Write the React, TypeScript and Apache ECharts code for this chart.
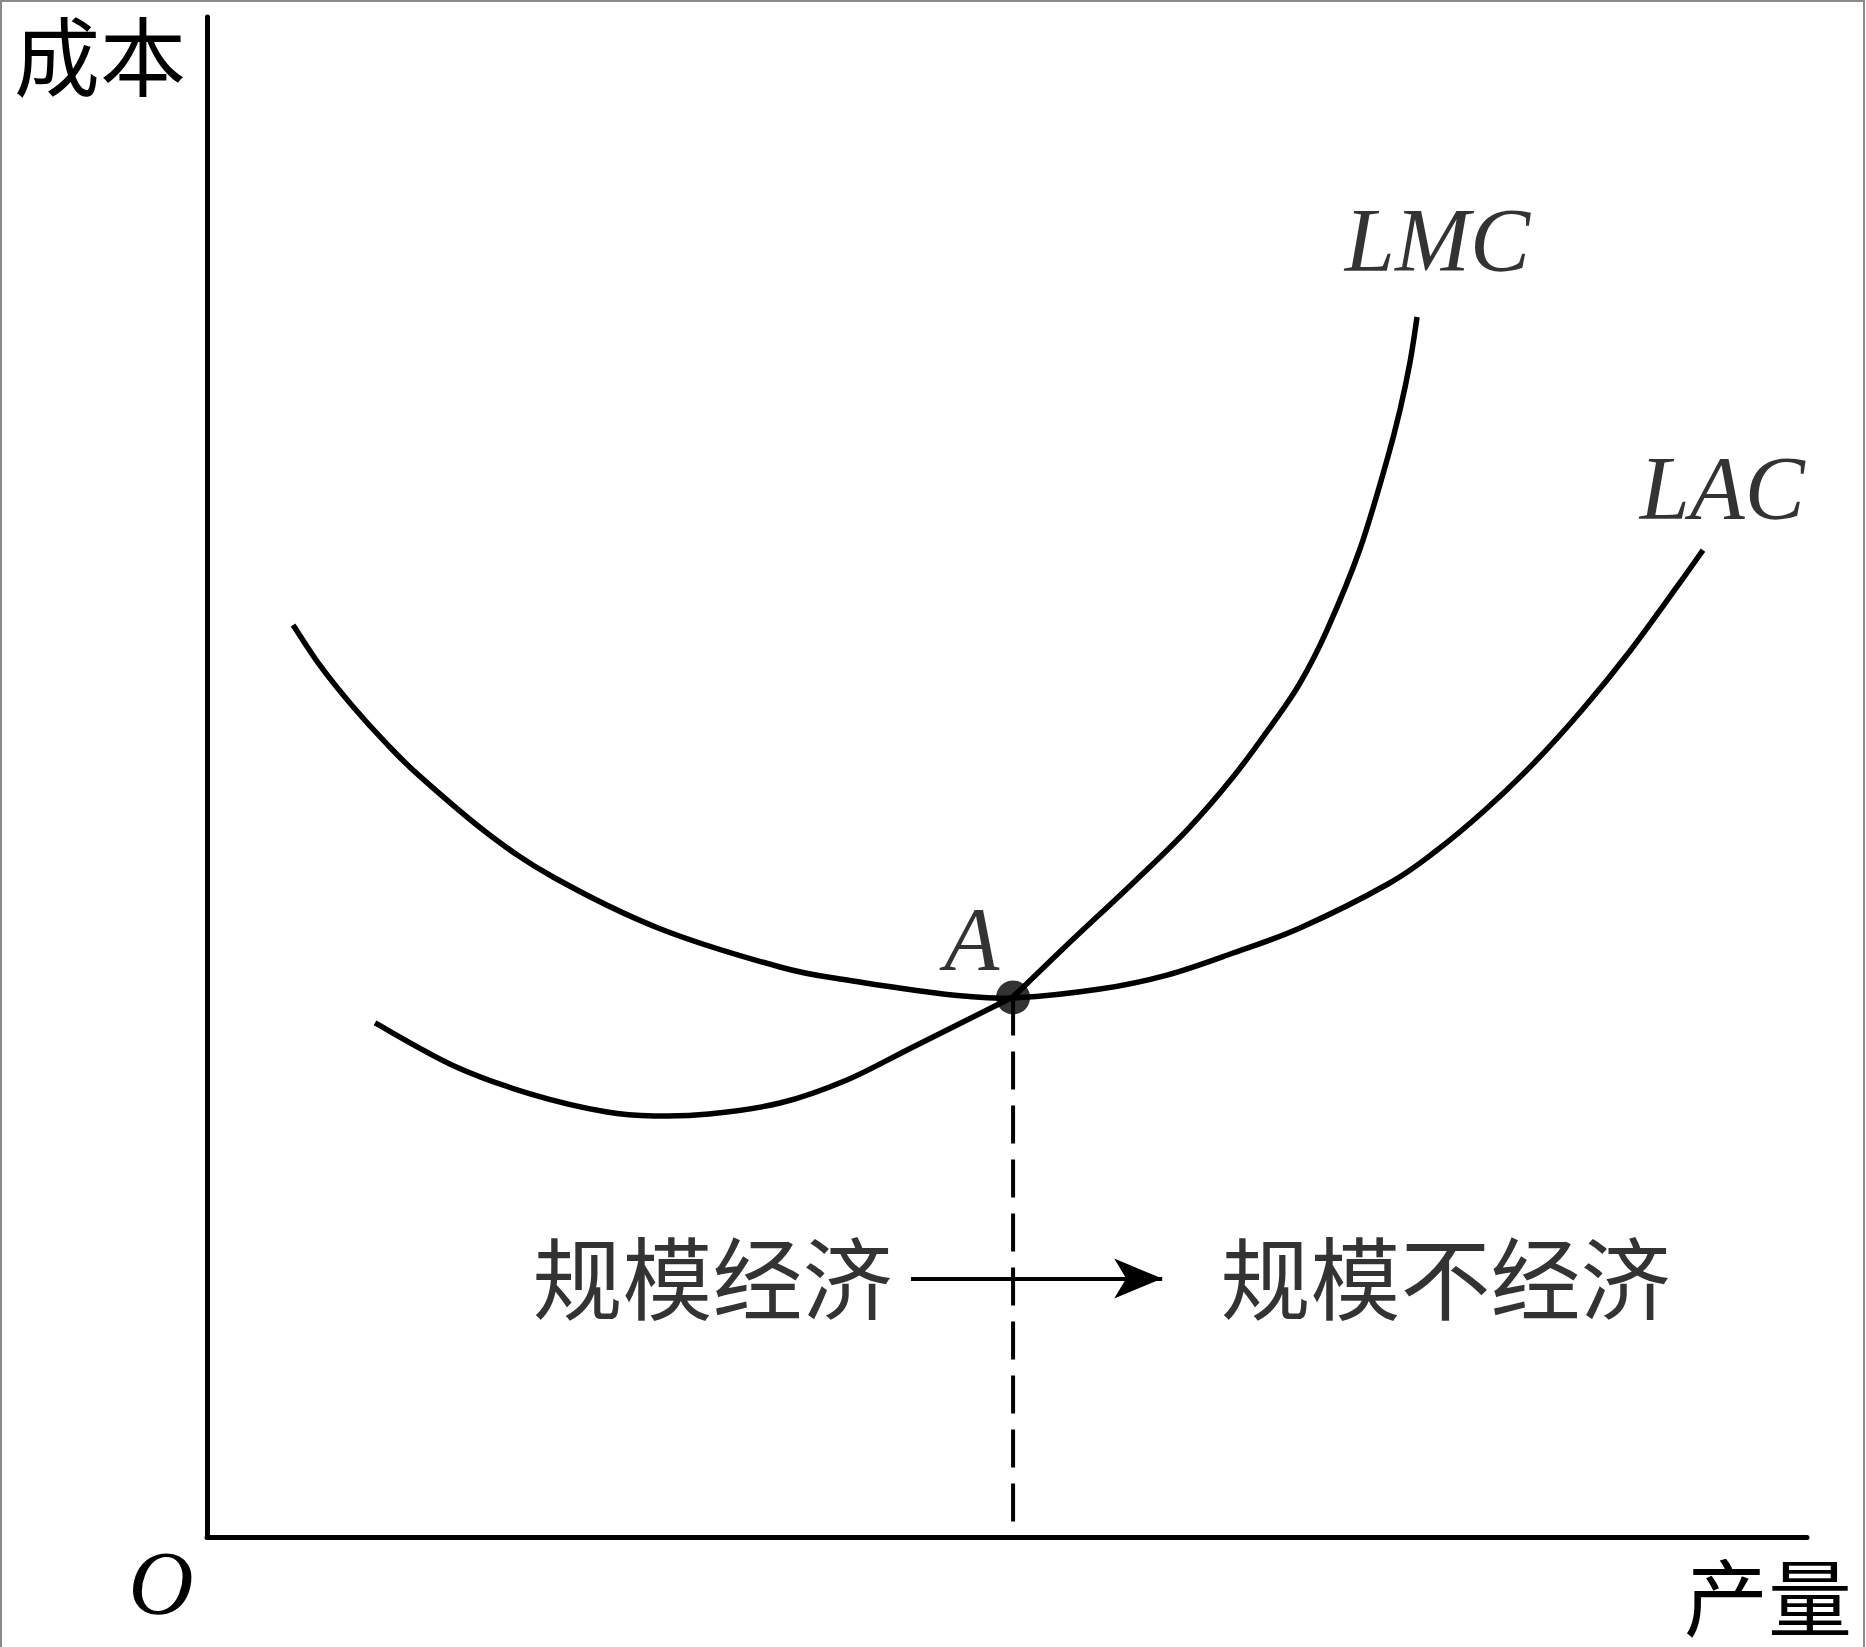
import React, { useEffect, useRef } from "react";
import * as echarts from "echarts";

// Long-run average cost curve (LAC): quantity / cost
const lacQ = [5.38, 7.06, 9.13, 11.25, 13.31, 17.5, 21.63, 28.19, 35.81, 40.0, 44.13, 47.25, 50.38, 55.81, 60.0, 64.13, 68.31, 73.81, 76.81, 79.88, 82.88, 85.94, 88.94, 92.0, 93.5];
const lacC = [60.0, 57.34, 54.62, 52.16, 50.04, 46.32, 43.42, 40.07, 37.5, 36.64, 35.99, 35.59, 35.46, 36.05, 36.97, 38.42, 40.07, 42.96, 45.13, 47.83, 50.86, 54.41, 58.29, 62.7, 64.93];

// Long-run marginal cost curve (LMC), part up to point A
const lmcLeftQ = [10.5, 15.44, 20.25, 25.0, 28.19, 31.38, 35.81, 40.0, 44.13, 50.38];
const lmcLeftC = [33.82, 30.99, 29.14, 27.96, 27.7, 27.83, 28.55, 30.07, 32.24, 35.53];
// LMC beyond point A
const lmcRightQ = [50.38, 53.75, 57.88, 61.25, 64.13, 66.63, 68.31, 70.0, 72.06, 73.75, 74.56, 75.19, 75.63];
const lmcRightC = [35.53, 38.95, 43.03, 46.51, 50.0, 53.55, 56.18, 59.67, 65.0, 70.86, 74.14, 77.3, 80.26];

// Point A: minimum of LAC where LMC crosses
const pointA = [50.38, 35.5];

// Curve labels
const curveLabelNames = ["LMC", "LAC", "A"];
const curveLabelPos = [[76.9, 85.3], [94.7, 69.0], [47.8, 39.3]];

// Region texts and arrow
const regionTexts = ["规模经济", "规模不经济"];
const regionTextPos = [[31.6, 17.3], [77.4, 17.3]];
const arrowFrom = [44.0, 17.0];
const arrowTo = [59.7, 17.0];

const axisNameY = "成本";
const axisNameX = "产量";
const originLabel = "O";

const W = 1866;
const H = 1647;

// Catmull-Rom spline through pixel points, as cubic bezier path data
function splinePath(pts: number[][]): string {
  if (pts.length < 2) return "";
  let d = `M${pts[0][0]},${pts[0][1]}`;
  for (let i = 0; i < pts.length - 1; i++) {
    const p0 = pts[i - 1] || pts[i];
    const p1 = pts[i];
    const p2 = pts[i + 1];
    const p3 = pts[i + 2] || pts[i + 1];
    const c1x = p1[0] + (p2[0] - p0[0]) / 6;
    const c1y = p1[1] + (p2[1] - p0[1]) / 6;
    const c2x = p2[0] - (p3[0] - p1[0]) / 6;
    const c2y = p2[1] - (p3[1] - p1[1]) / 6;
    d += ` C${c1x},${c1y} ${c2x},${c2y} ${p2[0]},${p2[1]}`;
  }
  return d;
}

export default function App() {
  const ref = useRef<HTMLDivElement>(null);

  useEffect(() => {
    if (!ref.current) return;
    const chart = echarts.init(ref.current, null, { renderer: "svg" });

    const zip = (a: number[], b: number[]) => a.map((v, i) => [v, b[i]]);
    const serifItalic = {
      fontFamily: "Liberation Serif",
      fontStyle: "italic" as const,
      fontSize: 90,
      color: "#000",
    };
    const cjk = {
      fontFamily: "Noto Sans CJK SC",
      fontSize: 90,
      fontWeight: 400,
      color: "#000",
    };

    const curveSeries = (name: string, data: number[][]) => ({
      name,
      type: "custom",
      coordinateSystem: "cartesian2d",
      silent: true,
      data,
      encode: { x: 0, y: 1 },
      renderItem: (params: any, api: any) => {
        if (params.dataIndex !== 0) return null;
        const pts = data.map((p) => api.coord(p));
        return {
          type: "path",
          shape: { pathData: splinePath(pts) },
          style: { stroke: "#000", lineWidth: 5.5, fill: "none", lineCap: "butt", lineJoin: "round" },
        };
      },
    });

    const option: any = {
      animation: false,
      backgroundColor: "#fff",
      grid: { left: 207, right: 59, top: 17, bottom: 110 },
      xAxis: {
        type: "value",
        min: 0,
        max: 100,
        axisLine: { show: true, onZero: false, lineStyle: { color: "#000", width: 5 } },
        axisTick: { show: false },
        axisLabel: { show: false },
        splitLine: { show: false },
      },
      yAxis: {
        type: "value",
        min: 0,
        max: 100,
        axisLine: { show: true, onZero: false, lineStyle: { color: "#000", width: 5 } },
        axisTick: { show: false },
        axisLabel: { show: false },
        splitLine: { show: false },
      },
      graphic: [
        {
          type: "polyline",
          silent: true,
          shape: { points: [[1, H], [1, 1], [1864, 1], [1864, H]] },
          style: { stroke: "#8a8a8a", lineWidth: 2, fill: "none" },
        },
        {
          type: "text",
          x: 100,
          y: 52,
          style: { text: axisNameY, ...cjk, fill: "#000", align: "center", verticalAlign: "middle", fontSize: 86 },
        },
        {
          type: "text",
          x: 1768,
          y: 1593,
          style: { text: axisNameX, ...cjk, fill: "#000", align: "center", verticalAlign: "middle", fontSize: 84 },
        },
        {
          type: "text",
          x: 161,
          y: 1583,
          style: { text: originLabel, ...serifItalic, fill: "#000", align: "center", verticalAlign: "middle" },
        },
      ],
      series: [
        {
          type: "line",
          silent: true,
          symbol: "none",
          data: [pointA, [pointA[0], 0]],
          lineStyle: { color: "#000", width: 4, type: [38, 16] },
        },
        curveSeries("LAC", zip(lacQ, lacC)),
        curveSeries("LMC", zip(lmcLeftQ, lmcLeftC)),
        curveSeries("LMC", zip(lmcRightQ, lmcRightC)),
        {
          type: "line",
          silent: true,
          symbol: "none",
          data: [],
          markLine: {
            silent: true,
            symbol: ["none", "arrow"],
            symbolSize: [30, 48],
            label: { show: false },
            lineStyle: { color: "#000", width: 4, type: "solid" },
            data: [[{ coord: arrowFrom }, { coord: arrowTo }]],
          },
        },
        {
          type: "scatter",
          silent: true,
          symbolSize: 34,
          itemStyle: { color: "#000" },
          data: [pointA],
          z: 5,
        },
        {
          type: "scatter",
          silent: true,
          symbolSize: 1,
          itemStyle: { color: "rgba(0,0,0,0)" },
          data: curveLabelNames.map((n, i) => ({ name: n, value: curveLabelPos[i] })),
          label: {
            show: true,
            position: "inside",
            formatter: "{b}",
            ...serifItalic,
          },
        },
        {
          type: "scatter",
          silent: true,
          symbolSize: 1,
          itemStyle: { color: "rgba(0,0,0,0)" },
          data: regionTexts.map((n, i) => ({ name: n, value: regionTextPos[i] })),
          label: {
            show: true,
            position: "inside",
            formatter: "{b}",
            ...cjk,
          },
        },
      ],
    };

    chart.setOption(option);
    return () => chart.dispose();
  }, []);

  return (
    <div
      ref={ref}
      style={{ position: "absolute", left: 0, top: 0, width: W, height: H, background: "#fff" }}
    />
  );
}
